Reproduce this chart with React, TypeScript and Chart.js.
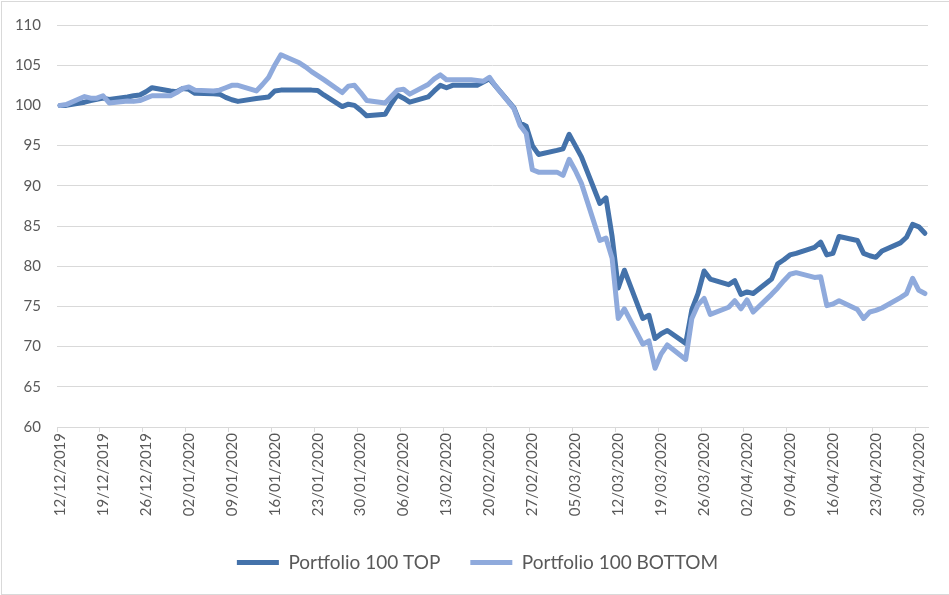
import React, { useEffect, useRef } from "react";
import { Chart, registerables } from "chart.js";

Chart.register(...registerables);

// ---- Data ----
const startDate = { year: 2019, month: 12, day: 12 }; // first calendar day on the axis
const dayCount = 142; // 12/12/2019 .. 01/05/2020
const tickEvery = 7;

const seriesNames = ["Portfolio 100 TOP", "Portfolio 100 BOTTOM"];

// trading-day values (Mon-Fri), week by week
const topValues = [
  100, 100,
  100.4, 100.6, 100.75, 100.9, 100.75,
  101.05, 101.2, 101.3, 101.7, 102.2,
  101.8, 101.7, 102.1, 102.0, 101.5,
  101.45, 101.4, 101.0, 100.7, 100.5,
  100.85, 100.95, 101.05, 101.8, 101.9,
  101.9, 101.9, 101.9, 101.85, 101.3,
  99.85, 100.15, 100.0, 99.4, 98.7,
  98.9, 100.2, 101.3, 100.9, 100.4,
  101.05, 101.8, 102.5, 102.2, 102.5,
  102.5, 102.5, 102.9, 103.3, 102.4,
  99.7, 97.8, 97.4, 95.0, 93.9,
  94.4, 94.6, 96.4, 95.0, 93.6,
  87.8, 88.5, 83.7, 77.3, 79.5,
  73.5, 73.9, 71.0, 71.6, 72.0,
  70.4, 74.6, 76.6, 79.4, 78.4,
  77.7, 78.2, 76.5, 76.8, 76.6,
  78.4, 80.3, 80.8, 81.4, 81.6,
  82.35, 83.0, 81.4, 81.6, 83.7,
  83.2, 81.6, 81.3, 81.1, 81.9,
  82.9, 83.6, 85.2, 84.9, 84.1,
];

const bottomValues = [
  100, 100.1,
  101.1, 100.9, 100.9, 101.2, 100.3,
  100.55, 100.5, 100.6, 100.9, 101.2,
  101.2, 101.6, 102.1, 102.3, 101.9,
  101.8, 101.9, 102.2, 102.5, 102.5,
  101.8, 102.6, 103.5, 105.0, 106.3,
  105.3, 104.8, 104.2, 103.7, 103.2,
  101.6, 102.4, 102.5, 101.6, 100.6,
  100.3, 101.1, 101.9, 102.0, 101.4,
  102.6, 103.3, 103.8, 103.2, 103.2,
  103.2, 103.1, 103.0, 103.5, 102.4,
  99.6, 97.5, 96.5, 92.0, 91.7,
  91.7, 91.3, 93.3, 91.9, 90.3,
  83.2, 83.5, 81.0, 73.5, 74.7,
  70.3, 70.7, 67.3, 69.1, 70.2,
  68.4, 73.5, 75.2, 76.0, 74.0,
  74.9, 75.7, 74.7, 75.8, 74.3,
  76.5, 77.3, 78.2, 79.0, 79.2,
  78.6, 78.7, 75.1, 75.3, 75.7,
  74.6, 73.5, 74.3, 74.5, 74.8,
  76.1, 76.6, 78.5, 77.0, 76.6,
];

const yMin = 60;
const yMax = 110;
const yStep = 5;

const DARK = "#4472AA";
const LIGHT = "#8FAADC";
const TEXT = "#595959";
const GRID = "#D9D9D9";

function pad2(n: number) {
  return n < 10 ? "0" + n : String(n);
}

function buildCalendar() {
  const labels: string[] = [];
  const tradingDay: boolean[] = [];
  for (let i = 0; i < dayCount; i++) {
    const d = new Date(startDate.year, startDate.month - 1, startDate.day + i, 12);
    labels.push(pad2(d.getDate()) + "/" + pad2(d.getMonth() + 1) + "/" + d.getFullYear());
    const wd = d.getDay();
    tradingDay.push(wd !== 0 && wd !== 6);
  }
  return { labels, tradingDay };
}

function spread(values: number[], tradingDay: boolean[]) {
  let k = 0;
  return tradingDay.map((t) => (t ? values[k++] ?? null : null));
}

export default function App() {
  const ref = useRef<HTMLCanvasElement | null>(null);

  useEffect(() => {
    if (!ref.current) return;
    const { labels, tradingDay } = buildCalendar();
    const font = { family: "Lato, 'Open Sans', sans-serif", size: 15 };
    const chart = new Chart(ref.current, {
      type: "line",
      data: {
        labels,
        datasets: [
          {
            label: seriesNames[0],
            data: spread(topValues, tradingDay),
            borderColor: DARK,
            backgroundColor: DARK,
            borderWidth: 5,
            pointRadius: 0,
            pointHoverRadius: 0,
            spanGaps: true,
            tension: 0,
            borderJoinStyle: "round",
            borderCapStyle: "round",
            order: 2,
          },
          {
            label: seriesNames[1],
            data: spread(bottomValues, tradingDay),
            borderColor: LIGHT,
            backgroundColor: LIGHT,
            borderWidth: 5,
            pointRadius: 0,
            pointHoverRadius: 0,
            spanGaps: true,
            tension: 0,
            borderJoinStyle: "round",
            borderCapStyle: "round",
            order: 1,
          },
        ],
      },
      options: {
        responsive: false,
        animation: false,
        events: [],
        layout: { padding: { left: 6, right: 0, top: 24, bottom: 13 } },
        plugins: {
          tooltip: { enabled: false },
          legend: {
            position: "bottom",
            labels: {
              boxWidth: 42,
              boxHeight: 5,
              padding: 30,
              color: TEXT,
              font: { family: "Lato, 'Open Sans', sans-serif", size: 19 },
              generateLabels: (c: any) =>
                c.data.datasets.map((ds: any, i: number) => ({
                  text: ds.label,
                  fillStyle: ds.borderColor,
                  strokeStyle: ds.borderColor,
                  lineWidth: 0,
                  hidden: false,
                  datasetIndex: i,
                  fontColor: TEXT,
                })),
            },
          },
        },
        scales: {
          x: {
            type: "category",
            offset: true,
            grid: {
              offset: true,
              drawOnChartArea: false,
              drawTicks: true,
              tickLength: 5,
              lineWidth: 1,
              color: (ctx: any) => (ctx.index % tickEvery === 0 ? GRID : "rgba(0,0,0,0)"),
            },
            border: { display: true, color: GRID, width: 1 },
            ticks: {
              autoSkip: false,
              minRotation: 90,
              maxRotation: 90,
              padding: 1,
              color: TEXT,
              font,
              callback: (_v: any, i: number) => (i % tickEvery === 0 ? labels[i] : ""),
            },
            afterFit: (s: any) => {
              s.height = 96;
            },
          },
          y: {
            min: yMin,
            max: yMax,
            ticks: { stepSize: yStep, padding: 16, color: TEXT, font },
            grid: { color: GRID, lineWidth: 1, drawTicks: false },
            border: { display: false },
            afterFit: (s: any) => {
              s.width = 51;
            },
          },
          yRight: {
            position: "right",
            display: true,
            grid: { display: false },
            ticks: { display: false },
            border: { display: false },
            afterFit: (s: any) => {
              s.width = 21;
            },
          },
        },
      } as any,
    });
    return () => chart.destroy();
  }, []);

  return (
    <div style={{ position: "fixed", left: 0, top: 0, width: 949, height: 595, background: "#fff", overflow: "hidden" }}>
      <canvas ref={ref} width={949} height={595} style={{ display: "block", width: 949, height: 595 }} />
      <div
        style={{
          position: "absolute",
          left: 1,
          top: 1,
          width: 960,
          height: 594,
          border: "1px solid " + GRID,
          boxSizing: "border-box",
          pointerEvents: "none",
        }}
      />
    </div>
  );
}
